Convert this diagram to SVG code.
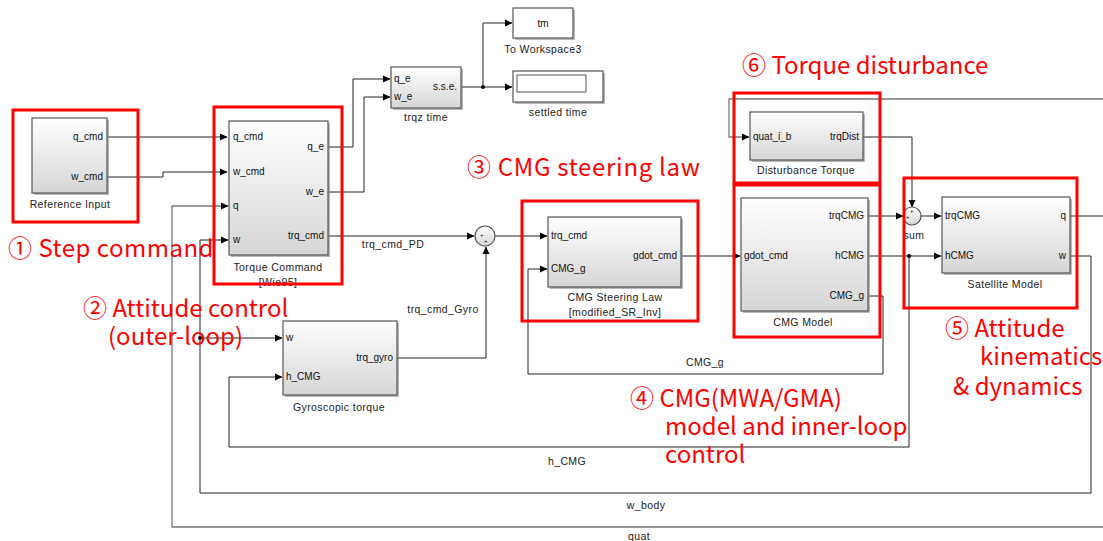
<svg xmlns="http://www.w3.org/2000/svg" width="1103" height="541" viewBox="0 0 1103 541">
<defs>
<linearGradient id="bg" x1="0" y1="0" x2="0" y2="1">
<stop offset="0" stop-color="#ffffff"/>
<stop offset="1" stop-color="#d6d6d6"/>
</linearGradient>
<marker id="ar" markerWidth="8" markerHeight="8" refX="7" refY="4" orient="auto" markerUnits="userSpaceOnUse">
<path d="M0,0.5 L7.5,4 L0,7.5 Z" fill="#000"/>
</marker>
</defs>
<style>
.blk{fill:url(#bg);stroke:#555;stroke-width:1.2}
.wht{fill:#fff;stroke:#555;stroke-width:1.2}
.shd{fill:#8a8a8a;opacity:0.6}
.ln{fill:none;stroke:#222;stroke-width:1}
.lg{fill:none;stroke:#777;stroke-width:1.3}
.pt{font-family:"Liberation Sans",Arial,sans-serif;font-size:10px;fill:#111}
.sg{font-family:"Liberation Sans",Arial,sans-serif;font-size:6px;fill:#111}
.lb{font-family:"Liberation Sans",Arial,sans-serif;font-size:10.5px;fill:#222;letter-spacing:0.4px;text-anchor:middle}
.rb{fill:none;stroke:#ff0000;stroke-width:3}
.rt{font-family:"Noto Sans CJK KR","Noto Sans",sans-serif;font-size:24px;fill:#ff0000}
.dot{fill:#000}
</style>
<rect width="1103" height="541" fill="#fff"/>

<g id="connectors">
<path class="ln" d="M107,137 H227" marker-end="url(#ar)"/>
<path class="ln" d="M107,177 H163 V172 H227" marker-end="url(#ar)"/>
<path class="ln" d="M328,147 H353 V79 H390" marker-end="url(#ar)"/>
<path class="ln" d="M328,192 H364 V97 H390" marker-end="url(#ar)"/>
<path class="ln" d="M461,87 H512" marker-end="url(#ar)"/>
<path class="ln" d="M483,87 V23 H512" marker-end="url(#ar)"/>
<circle class="dot" cx="483" cy="87" r="2"/>
<path class="ln" d="M328,236 H474" marker-end="url(#ar)"/>
<path class="ln" d="M397,358 H486 V247" marker-end="url(#ar)"/>
<path class="ln" d="M495,236 H547" marker-end="url(#ar)"/>
<path class="ln" d="M681,256 H740" marker-end="url(#ar)"/>
<path class="ln" d="M868,216 H903" marker-end="url(#ar)"/>
<path class="ln" d="M921,216 H941" marker-end="url(#ar)"/>
<path class="ln" d="M863,137 H912 V207" marker-end="url(#ar)"/>
<path class="ln" d="M868,256 H941" marker-end="url(#ar)"/>
<path class="ln" d="M909,256 V447 H229 V377 H282" marker-end="url(#ar)"/>
<circle class="dot" cx="909" cy="256" r="2"/>
<path class="ln" d="M868,296 H883 V374 H528 V269 H547" marker-end="url(#ar)"/>
<path class="ln" d="M1070,256 H1091 V493 H200 V240 H228" marker-end="url(#ar)"/>
<path class="ln" d="M200,338 H282" marker-end="url(#ar)"/>
<circle class="dot" cx="200" cy="338" r="2"/>
<path class="ln" d="M1070,216 H1103"/>
<path class="lg" d="M1103,527 H172 V206 H228" marker-end="url(#ar)"/>
<path class="lg" d="M1103,99 H729 V137 H749" marker-end="url(#ar)"/>
<text class="lb" x="393" y="248">trq_cmd_PD</text>
<text class="lb" x="443" y="313">trq_cmd_Gyro</text>
<text class="lb" x="705" y="366">CMG_g</text>
<text class="lb" x="567" y="465">h_CMG</text>
<text class="lb" x="646" y="509">w_body</text>
<text class="lb" x="639" y="540">quat</text>
</g>

<g id="reference-input">
<rect class="shd" x="34" y="120" width="75" height="75"/>
<rect class="blk" x="32" y="118" width="75" height="75"/>
<text class="pt" x="103" y="140" text-anchor="end">q_cmd</text>
<text class="pt" x="103" y="180" text-anchor="end">w_cmd</text>
<text class="lb" x="70" y="208">Reference Input</text>
</g>

<g id="torque-command">
<rect class="shd" x="231" y="123" width="99" height="134"/>
<rect class="blk" x="229" y="121" width="99" height="134"/>
<text class="pt" x="233" y="140">q_cmd</text>
<text class="pt" x="233" y="175">w_cmd</text>
<text class="pt" x="233" y="209">q</text>
<text class="pt" x="233" y="243">w</text>
<text class="pt" x="324" y="150" text-anchor="end">q_e</text>
<text class="pt" x="324" y="195" text-anchor="end">w_e</text>
<text class="pt" x="324" y="239" text-anchor="end">trq_cmd</text>
<text class="lb" x="278" y="271">Torque Command</text>
<text class="lb" x="278" y="286">[Wie95]</text>
</g>

<g id="trqz-time">
<rect class="shd" x="393" y="69" width="70" height="41"/>
<rect class="blk" x="391" y="67" width="70" height="41"/>
<text class="pt" x="394" y="82">q_e</text>
<text class="pt" x="394" y="100">w_e</text>
<text class="pt" x="457" y="90" text-anchor="end">s.s.e.</text>
<text class="lb" x="426" y="121">trqz time</text>
</g>

<g id="to-workspace3">
<rect class="shd" x="515" y="10" width="60" height="30"/>
<rect class="wht" x="513" y="8" width="60" height="30"/>
<text class="pt" x="543" y="27" text-anchor="middle">tm</text>
<text class="lb" x="543" y="53">To Workspace3</text>
</g>

<g id="settled-time">
<rect class="shd" x="515" y="73" width="90" height="31"/>
<rect class="wht" x="513" y="71" width="90" height="31"/>
<rect x="517" y="75" width="69" height="17" fill="#fff" stroke="#555" stroke-width="1"/>
<text class="lb" x="558" y="116">settled time</text>
</g>

<g id="sum-pd">
<circle cx="485" cy="236" r="10" fill="url(#bg)" stroke="#555" stroke-width="1.2"/>
<text class="sg" x="480" y="237">+</text>
<text class="sg" x="484" y="243">+</text>
</g>

<g id="cmg-steering-law">
<rect class="shd" x="550" y="219" width="133" height="70"/>
<rect class="blk" x="548" y="217" width="133" height="70"/>
<text class="pt" x="551" y="239">trq_cmd</text>
<text class="pt" x="551" y="272">CMG_g</text>
<text class="pt" x="677" y="259" text-anchor="end">gdot_cmd</text>
<text class="lb" x="615" y="301">CMG Steering Law</text>
<text class="lb" x="615" y="316">[modified_SR_Inv]</text>
</g>

<g id="disturbance-torque">
<rect class="shd" x="752" y="114" width="113" height="48"/>
<rect class="blk" x="750" y="112" width="113" height="48"/>
<text class="pt" x="753" y="140">quat_i_b</text>
<text class="pt" x="859" y="140" text-anchor="end">trqDist</text>
<text class="lb" x="806" y="174">Disturbance Torque</text>
</g>

<g id="cmg-model">
<rect class="shd" x="743" y="200" width="127" height="113"/>
<rect class="blk" x="741" y="198" width="127" height="113"/>
<text class="pt" x="744" y="259">gdot_cmd</text>
<text class="pt" x="864" y="219" text-anchor="end">trqCMG</text>
<text class="pt" x="864" y="259" text-anchor="end">hCMG</text>
<text class="pt" x="864" y="299" text-anchor="end">CMG_g</text>
<text class="lb" x="803" y="326">CMG Model</text>
</g>

<g id="sum">
<circle cx="912" cy="216" r="9" fill="url(#bg)" stroke="#555" stroke-width="1.2"/>
<text class="sg" x="906" y="219">+</text>
<text class="sg" x="910" y="213">+</text>
<text class="lb" x="914" y="239">sum</text>
</g>

<g id="satellite-model">
<rect class="shd" x="944" y="199" width="128" height="76"/>
<rect class="blk" x="942" y="197" width="128" height="76"/>
<text class="pt" x="945" y="219">trqCMG</text>
<text class="pt" x="945" y="259">hCMG</text>
<text class="pt" x="1066" y="219" text-anchor="end">q</text>
<text class="pt" x="1066" y="259" text-anchor="end">w</text>
<text class="lb" x="1005" y="288">Satellite Model</text>
</g>

<g id="gyroscopic-torque">
<rect class="shd" x="285" y="323" width="114" height="74"/>
<rect class="blk" x="283" y="321" width="114" height="74"/>
<text class="pt" x="286" y="341">w</text>
<text class="pt" x="286" y="380">h_CMG</text>
<text class="pt" x="393" y="361" text-anchor="end">trq_gyro</text>
<text class="lb" x="339" y="411">Gyroscopic torque</text>
</g>

<g id="annotations">
<rect class="rb" x="13" y="110" width="125" height="112"/>
<rect class="rb" x="214" y="107" width="128" height="177"/>
<rect class="rb" x="522" y="201" width="176" height="120"/>
<rect class="rb" x="734" y="93" width="146" height="90"/>
<rect class="rb" x="734" y="185" width="146" height="152"/>
<rect class="rb" x="904" y="178" width="173" height="130"/>
<text class="rt" x="8" y="257" letter-spacing="0.5">① Step command</text>
<text class="rt" x="83" y="317">② Attitude control</text>
<text class="rt" x="108" y="345">(outer-loop)</text>
<text class="rt" x="467" y="176" letter-spacing="0.7">③ CMG steering law</text>
<text class="rt" x="630" y="407">④ CMG(MWA/GMA)</text>
<text class="rt" x="665" y="435">model and inner-loop</text>
<text class="rt" x="665" y="463">control</text>
<text class="rt" x="945" y="337">⑤ Attitude</text>
<text class="rt" x="980" y="365">kinematics</text>
<text class="rt" x="953" y="395">&amp; dynamics</text>
<text class="rt" x="742" y="74">⑥ Torque disturbance</text>
</g>
</svg>
